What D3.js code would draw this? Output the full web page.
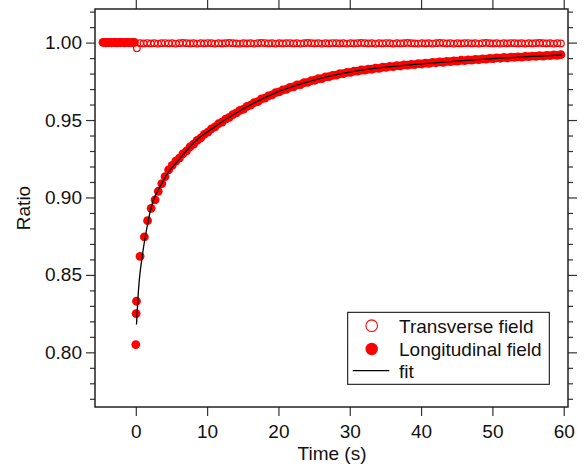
<!DOCTYPE html>
<html><head><meta charset="utf-8">
<script src="https://cdn.jsdelivr.net/npm/d3@7"></script>
<style>body{margin:0;background:#fff}svg{display:block}text{font-family:"Liberation Sans",Arial,Helvetica,sans-serif}</style>
</head><body><svg id="c" width="585" height="468"></svg>
<script>
// ---------- data ----------
const xTicks = [0, 10, 20, 30, 40, 50, 60];
const yTicks = [0.80, 0.85, 0.90, 0.95, 1.00];
const yMinor = [0.77,0.78,0.79,0.81,0.82,0.83,0.84,0.86,0.87,0.88,0.89,0.91,0.92,0.93,0.94,0.96,0.97,0.98,0.99,1.01,1.02];
const legendLabels = ["Transverse field", "Longitudinal field", "fit"];

// before the field step (both series at 1)
const preTimes = [-4.6,-4.4,-4.2,-4.0,-3.8,-3.6,-3.4,-3.2,-3.0,-2.8,-2.6,-2.4,-2.2,-2.0,-1.8,-1.6,-1.4,-1.2,-1.0,-0.8,-0.6,-0.4,-0.2];
const preValues = [1.0001,1.0000,0.9999,1.0001,1.0000,1.0000,0.9999,1.0000,1.0001,1.0000,0.9999,1.0000,1.0001,1.0000,1.0000,0.9999,1.0000,1.0001,1.0000,0.9999,1.0000,1.0000,1.0001];

const transverse = [
[0.15,0.9964],[0.6,0.9996],[1.1,0.9995],[1.6,0.9997],[2.1,0.9995],[2.6,0.9996],[3.1,0.9994],[3.6,0.9996],[4.1,0.9997],[4.6,0.9995],
[5.1,0.9996],[5.6,0.9994],[6.1,0.9996],[6.6,0.9998],[7.1,0.9996],[7.6,0.9995],[8.1,0.9996],[8.6,0.9994],[9.1,0.9996],[9.6,0.9995],
[10.1,0.9997],[10.6,0.9996],[11.1,0.9994],[11.6,0.9996],[12.1,0.9995],[12.6,0.9996],[13.1,0.9998],[13.6,0.9996],[14.1,0.9995],[14.6,0.9994],
[15.1,0.9996],[15.6,0.9995],[16.1,0.9996],[16.6,0.9994],[17.1,0.9996],[17.6,0.9998],[18.1,0.9997],[18.6,0.9995],[19.1,0.9996],[19.6,0.9994],
[20.1,0.9996],[20.6,0.9995],[21.1,0.9996],[21.6,0.9997],[22.1,0.9995],[22.6,0.9996],[23.1,0.9994],[23.6,0.9996],[24.1,0.9998],[24.6,0.9996],
[25.1,0.9995],[25.6,0.9996],[26.1,0.9994],[26.6,0.9996],[27.1,0.9995],[27.6,0.9997],[28.1,0.9996],[28.6,0.9995],[29.1,0.9996],[29.6,0.9994],
[30.1,0.9996],[30.6,0.9995],[31.1,0.9996],[31.6,0.9998],[32.1,0.9996],[32.6,0.9995],[33.1,0.9996],[33.6,0.9994],[34.1,0.9996],[34.6,0.9995],
[35.1,0.9997],[35.6,0.9996],[36.1,0.9994],[36.6,0.9996],[37.1,0.9995],[37.6,0.9996],[38.1,0.9998],[38.6,0.9996],[39.1,0.9995],[39.6,0.9994],
[40.1,0.9996],[40.6,0.9995],[41.1,0.9996],[41.6,0.9994],[42.1,0.9996],[42.6,0.9998],[43.1,0.9997],[43.6,0.9995],[44.1,0.9996],[44.6,0.9994],
[45.1,0.9996],[45.6,0.9995],[46.1,0.9996],[46.6,0.9997],[47.1,0.9995],[47.6,0.9996],[48.1,0.9994],[48.6,0.9996],[49.1,0.9998],[49.6,0.9996],
[50.1,0.9995],[50.6,0.9996],[51.1,0.9994],[51.6,0.9996],[52.1,0.9995],[52.6,0.9997],[53.1,0.9996],[53.6,0.9995],[54.1,0.9996],[54.6,0.9994],
[55.1,0.9996],[55.6,0.9995],[56.1,0.9996],[56.6,0.9998],[57.1,0.9996],[57.6,0.9995],[58.1,0.9996],[58.6,0.9994],[59.1,0.9996],[59.6,0.9995]
];

const longitudinal = [
[0.0,0.805],[0.05,0.825],[0.1,0.833],[0.6,0.862],[1.2,0.8745],[1.65,0.885],[2.15,0.893],[2.7,0.8985],[3.15,0.904],[3.65,0.909],
[4.1,0.9135],[4.6,0.9178],[5.1,0.9207],[5.6,0.9234],[6.1,0.9254],[6.6,0.9282],[7.1,0.9300],[7.6,0.9326],[8.1,0.9344],[8.6,0.9368],
[9.1,0.9384],[9.6,0.9408],[10.1,0.9422],[10.6,0.9443],[11.1,0.9456],[11.6,0.9476],[12.1,0.9487],[12.6,0.9506],[13.1,0.9517],[13.6,0.9535],
[14.1,0.9546],[14.6,0.9562],[15.1,0.9571],[15.6,0.9588],[16.1,0.9596],[16.6,0.9612],[17.1,0.9619],[17.6,0.9636],[18.1,0.9642],[18.6,0.9656],
[19.1,0.9662],[19.6,0.9677],[20.1,0.9682],[20.6,0.9694],[21.1,0.9698],[21.6,0.9711],[22.1,0.9714],[22.6,0.9727],[23.1,0.9729],[23.6,0.9741],
[24.1,0.9743],[24.6,0.9755],[25.1,0.9757],[25.6,0.9767],[26.1,0.9768],[26.6,0.9779],[27.1,0.9780],[27.6,0.9789],[28.1,0.9790],[28.6,0.9799],
[29.1,0.9800],[29.6,0.9808],[30.1,0.9808],[30.6,0.9816],[31.1,0.9816],[31.6,0.9823],[32.1,0.9822],[32.6,0.9829],[33.1,0.9828],[33.6,0.9835],
[34.1,0.9834],[34.6,0.9841],[35.1,0.9840],[35.6,0.9846],[36.1,0.9845],[36.6,0.9851],[37.1,0.9849],[37.6,0.9856],[38.1,0.9854],[38.6,0.9860],
[39.1,0.9858],[39.6,0.9864],[40.1,0.9862],[40.6,0.9868],[41.1,0.9866],[41.6,0.9872],[42.1,0.9870],[42.6,0.9875],[43.1,0.9873],[43.6,0.9879],
[44.1,0.9877],[44.6,0.9882],[45.1,0.9880],[45.6,0.9886],[46.1,0.9884],[46.6,0.9889],[47.1,0.9887],[47.6,0.9892],[48.1,0.9890],[48.6,0.9895],
[49.1,0.9893],[49.6,0.9898],[50.1,0.9896],[50.6,0.9901],[51.1,0.9899],[51.6,0.9904],[52.1,0.9901],[52.6,0.9906],[53.1,0.9904],[53.6,0.9908],
[54.1,0.9906],[54.6,0.9911],[55.1,0.9909],[55.6,0.9913],[56.1,0.9911],[56.6,0.9916],[57.1,0.9913],[57.6,0.9918],[58.1,0.9916],[58.6,0.9920],
[59.1,0.9917],[59.6,0.9922]
];

const fitCurve = [
[0.1,0.818],[0.3,0.835],[0.5,0.847],[0.9,0.862],[1.5,0.879],[2.2,0.8945],[3.4,0.907],[4.6,0.9165],[5.7,0.9225],[8.5,0.937],
[10,0.9422],[15,0.9571],[20,0.9683],[25,0.9758],[30,0.9809],[35,0.9841],[40,0.9863],[45,0.9881],[50,0.9896],[55,0.9909],[59.7,0.9920]
];

// ---------- layout ----------
const svg = d3.select("#c");
const L = 95, R = 568, T = 9, B = 407;
const x = d3.scaleLinear().domain([-5.72, 60.6]).range([L, R]);
const y = d3.scaleLinear().domain([0.7647, 1.0217]).range([B, T]);
const RED = "#ff0000";
const FS = "19px";

svg.append("clipPath").attr("id","clip").append("rect")
  .attr("x",L).attr("y",T).attr("width",R-L).attr("height",B-T);

const plot = svg.append("g").attr("clip-path","url(#clip)");

// transverse (open)
plot.append("g").selectAll("circle").data(transverse).join("circle")
  .attr("cx", d=>x(d[0])).attr("cy", d=>y(d[1])).attr("r", 3.3)
  .attr("fill","none").attr("stroke",RED).attr("stroke-width",1.2);

// longitudinal (filled) incl. pre-step
const pre = preTimes.map((t,i)=>[t, preValues[i]]);
plot.append("g").selectAll("circle").data(pre.concat(longitudinal)).join("circle")
  .attr("cx", d=>x(d[0])).attr("cy", d=>y(d[1])).attr("r", 4.4)
  .attr("fill",RED);

// fit
plot.append("path").datum(fitCurve)
  .attr("d", d3.line().x(d=>x(d[0])).y(d=>y(d[1])).curve(d3.curveMonotoneX))
  .attr("fill","none").attr("stroke","#000").attr("stroke-width",1.3);

// ---------- axes ----------
function styleAxis(g){
  g.selectAll(".domain").remove();
  g.selectAll(".tick line").attr("stroke","#333").attr("stroke-width",1.2);
  g.selectAll("text").attr("font-size",FS).attr("fill","#111");
}
svg.append("g").attr("transform",`translate(0,${B})`)
  .call(d3.axisBottom(x).tickValues(xTicks).tickSize(9).tickPadding(9).tickFormat(d3.format("d")))
  .call(styleAxis);
svg.append("g").attr("transform",`translate(0,${T})`)
  .call(d3.axisTop(x).tickValues(xTicks).tickSize(9).tickFormat(""))
  .call(styleAxis);
svg.append("g").attr("transform",`translate(${L},0)`)
  .call(d3.axisLeft(y).tickValues(yTicks).tickSize(9).tickPadding(4).tickFormat(d3.format(".2f")))
  .call(styleAxis);
svg.append("g").attr("transform",`translate(${L},0)`)
  .call(d3.axisLeft(y).tickValues(yMinor).tickSize(5).tickFormat(""))
  .call(styleAxis);
svg.append("g").attr("transform",`translate(${R},0)`)
  .call(d3.axisRight(y).tickValues(yTicks).tickSize(9).tickFormat(""))
  .call(styleAxis);
svg.append("g").attr("transform",`translate(${R},0)`)
  .call(d3.axisRight(y).tickValues(yMinor).tickSize(5).tickFormat(""))
  .call(styleAxis);

// frame
svg.append("rect").attr("x",L).attr("y",T).attr("width",R-L).attr("height",B-T)
  .attr("fill","none").attr("stroke","#222").attr("stroke-width",1.5);

// axis titles
svg.append("text").attr("x",332).attr("y",460).attr("text-anchor","middle")
  .attr("font-size",FS).attr("fill","#111").text("Time (s)");
svg.append("text").attr("transform","translate(30,208) rotate(-90)").attr("text-anchor","middle")
  .attr("font-size",FS).attr("fill","#111").text("Ratio");

// ---------- legend ----------
const lg = svg.append("g");
lg.append("rect").attr("x",347.7).attr("y",312.3).attr("width",201.6).attr("height",72)
  .attr("fill","#fff").attr("stroke","#000").attr("stroke-width",1);
const rowY = [325.7, 349, 370.7];
lg.append("circle").attr("cx",371.7).attr("cy",rowY[0]).attr("r",5.8)
  .attr("fill","none").attr("stroke",RED).attr("stroke-width",1.1);
lg.append("circle").attr("cx",371.7).attr("cy",rowY[1]).attr("r",6.2).attr("fill",RED);
lg.append("line").attr("x1",352.7).attr("x2",389.3).attr("y1",rowY[2]).attr("y2",rowY[2])
  .attr("stroke","#000").attr("stroke-width",1.2);
lg.selectAll("text.l").data(legendLabels).join("text").attr("class","l")
  .attr("x",399).attr("y",(d,i)=>rowY[i]).attr("dy","0.36em")
  .attr("font-size",FS).attr("fill","#111").text(d=>d);
</script></body></html>
